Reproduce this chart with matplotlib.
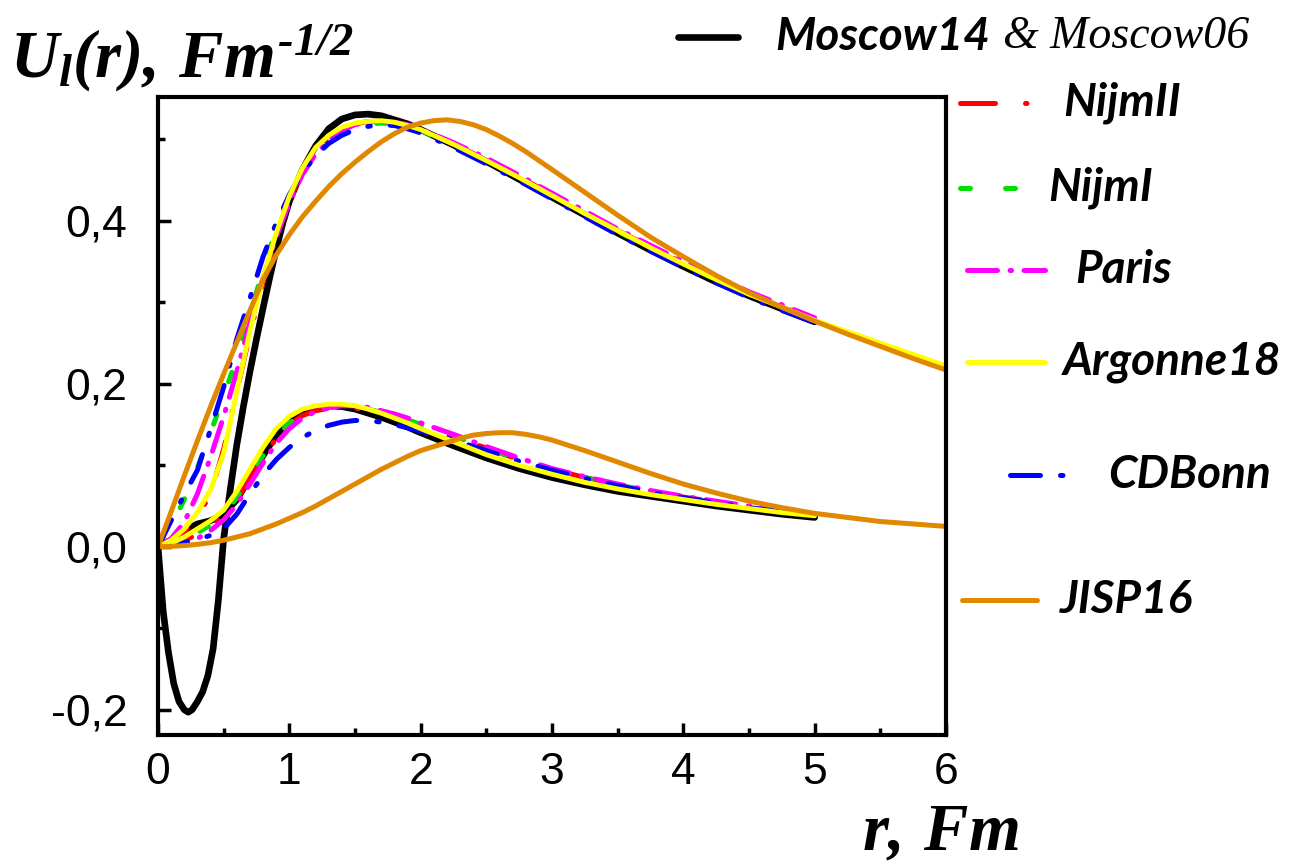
import matplotlib.pyplot as plt
from matplotlib.lines import Line2D
from matplotlib.ticker import FixedLocator, MultipleLocator

plt.rcParams['mathtext.fontset'] = 'custom'
plt.rcParams['mathtext.rm'] = 'Liberation Serif:bold:italic'
plt.rcParams['mathtext.it'] = 'Liberation Serif:bold:italic'
plt.rcParams['mathtext.bf'] = 'Liberation Serif:bold:italic'

# sampling grids, r in Fm
r_grid = [0, 0.1, 0.2, 0.3, 0.4, 0.5, 0.6, 0.7, 0.8, 0.9, 1.0, 1.1, 1.2, 1.3, 1.4, 1.5,
          1.6, 1.7, 1.8, 1.9, 2.0, 2.25, 2.5, 2.75, 3.0, 3.25, 3.5, 3.75, 4.0, 4.25,
          4.5, 4.75, 5.0]
r_grid6 = r_grid + [5.25, 5.5, 5.75, 6.0]
r_jisp = [0, 0.1, 0.2, 0.3, 0.4, 0.5, 0.6, 0.7, 0.8, 0.9, 1.0, 1.1, 1.2, 1.3, 1.4, 1.5,
          1.6, 1.7, 1.8, 1.9, 2.0, 2.1, 2.2, 2.3, 2.4, 2.5, 2.6, 2.7, 2.8, 2.9, 3.0,
          3.25, 3.5, 3.75, 4.0, 4.25, 4.5, 4.75, 5.0, 5.25, 5.5, 5.75, 6.0]
r_moscow = [0, 0.04, 0.08, 0.12, 0.16, 0.2, 0.23, 0.26, 0.3, 0.34, 0.38, 0.42, 0.46,
            0.5, 0.55, 0.6, 0.65, 0.7, 0.75, 0.8, 0.85, 0.9, 0.95, 1.0, 1.1, 1.2, 1.3,
            1.4, 1.5, 1.6, 1.7, 1.8, 1.9, 2.0, 2.25, 2.5, 2.75, 3.0, 3.25, 3.5, 3.75,
            4.0, 4.25, 4.5, 4.75, 5.0]

# S-wave (upper curves)
moscow14_s = [0, -0.08, -0.13, -0.168, -0.19, -0.2, -0.203, -0.2, -0.19, -0.178, -0.158,
              -0.125, -0.065, 0.01, 0.07, 0.125, 0.172, 0.215, 0.255, 0.293, 0.33, 0.365,
              0.397, 0.424, 0.463, 0.492, 0.513, 0.525, 0.53, 0.531, 0.529, 0.524, 0.519,
              0.512, 0.493, 0.473, 0.451, 0.429, 0.407, 0.385, 0.364, 0.344, 0.325,
              0.308, 0.292, 0.276]
nijm2_s = [0, 0.006, 0.018, 0.036, 0.065, 0.12, 0.19, 0.262, 0.325, 0.38, 0.425, 0.46,
           0.486, 0.503, 0.513, 0.519, 0.522, 0.522, 0.52, 0.516, 0.511, 0.494, 0.475,
           0.454, 0.432, 0.41, 0.388, 0.368, 0.348, 0.329, 0.311, 0.295, 0.279]
nijm1_s = [0, 0.025, 0.058, 0.097, 0.14, 0.185, 0.232, 0.285, 0.34, 0.39, 0.43, 0.458,
           0.48, 0.497, 0.508, 0.515, 0.519, 0.52, 0.519, 0.516, 0.511, 0.493, 0.474,
           0.453, 0.431, 0.409, 0.387, 0.367, 0.347, 0.328, 0.31, 0.294, 0.278]
paris_s = [0, 0.01, 0.03, 0.065, 0.11, 0.16, 0.215, 0.275, 0.33, 0.38, 0.422, 0.457,
           0.482, 0.5, 0.511, 0.518, 0.521, 0.522, 0.521, 0.518, 0.513, 0.496, 0.477,
           0.456, 0.434, 0.412, 0.39, 0.37, 0.35, 0.331, 0.313, 0.297, 0.281]
av18_s = [0, 0.008, 0.022, 0.042, 0.07, 0.115, 0.19, 0.265, 0.33, 0.385, 0.43, 0.465,
          0.49, 0.505, 0.515, 0.52, 0.522, 0.523, 0.521, 0.517, 0.512, 0.494, 0.474,
          0.453, 0.431, 0.409, 0.388, 0.367, 0.347, 0.328, 0.31, 0.294, 0.278, 0.264,
          0.25, 0.236, 0.222]
cdbonn_s = [0, 0.032, 0.064, 0.094, 0.144, 0.196, 0.255, 0.305, 0.356, 0.397, 0.432,
            0.46, 0.48, 0.495, 0.505, 0.512, 0.516, 0.518, 0.517, 0.513, 0.508, 0.49,
            0.47, 0.449, 0.427, 0.405, 0.383, 0.363, 0.343, 0.324, 0.306, 0.29, 0.275]
jisp16_s = [0, 0.043, 0.087, 0.13, 0.172, 0.212, 0.251, 0.29, 0.328, 0.358, 0.383, 0.405,
            0.424, 0.442, 0.458, 0.472, 0.485, 0.497, 0.507, 0.515, 0.52, 0.523, 0.524,
            0.522, 0.518, 0.512, 0.504, 0.495, 0.485, 0.474, 0.463, 0.435, 0.407, 0.38,
            0.356, 0.333, 0.312, 0.294, 0.277, 0.261, 0.246, 0.231, 0.217]

# D-wave (lower curves)
moscow14_d = [0, 0.008, 0.02, 0.028, 0.032, 0.04, 0.058, 0.085, 0.112, 0.137, 0.155,
              0.166, 0.171, 0.173, 0.172, 0.169, 0.164, 0.159, 0.153, 0.147, 0.14,
              0.124, 0.109, 0.096, 0.085, 0.076, 0.068, 0.062, 0.056, 0.05, 0.045,
              0.04, 0.036]
nijm2_d = [0, 0.003, 0.008, 0.015, 0.025, 0.038, 0.058, 0.084, 0.11, 0.133, 0.15, 0.161,
           0.167, 0.17, 0.171, 0.17, 0.168, 0.164, 0.16, 0.155, 0.149, 0.135, 0.121,
           0.107, 0.095, 0.085, 0.076, 0.068, 0.061, 0.055, 0.049, 0.044, 0.039]
nijm1_d = [0, 0.003, 0.009, 0.017, 0.027, 0.04, 0.06, 0.086, 0.112, 0.135, 0.152, 0.162,
           0.168, 0.171, 0.172, 0.171, 0.169, 0.165, 0.161, 0.156, 0.15, 0.136, 0.121,
           0.107, 0.095, 0.085, 0.076, 0.068, 0.061, 0.055, 0.049, 0.044, 0.039]
paris_d = [0, 0.002, 0.005, 0.01, 0.02, 0.033, 0.052, 0.077, 0.103, 0.127, 0.145, 0.158,
           0.166, 0.171, 0.173, 0.173, 0.171, 0.167, 0.163, 0.158, 0.152, 0.138, 0.123,
           0.109, 0.096, 0.086, 0.077, 0.069, 0.062, 0.056, 0.05, 0.045, 0.04]
av18_d = [0, 0.004, 0.012, 0.022, 0.032, 0.045, 0.068, 0.095, 0.122, 0.145, 0.16, 0.169,
          0.173, 0.175, 0.175, 0.173, 0.169, 0.164, 0.158, 0.152, 0.145, 0.129, 0.113,
          0.1, 0.089, 0.079, 0.071, 0.064, 0.058, 0.052, 0.047, 0.042, 0.038]
cdbonn_d = [0, 0.002, 0.005, 0.009, 0.014, 0.022, 0.04, 0.065, 0.088, 0.107, 0.122,
            0.134, 0.143, 0.149, 0.153, 0.155, 0.155, 0.153, 0.15, 0.146, 0.142, 0.131,
            0.118, 0.105, 0.094, 0.084, 0.075, 0.067, 0.06, 0.054, 0.048, 0.043, 0.039]
jisp16_d = [0, 0.0005, 0.0015, 0.003, 0.005, 0.008, 0.012, 0.016, 0.022, 0.028, 0.035,
            0.042, 0.05, 0.059, 0.068, 0.077, 0.086, 0.095, 0.103, 0.111, 0.118, 0.123,
            0.128, 0.133, 0.137, 0.139, 0.14, 0.14, 0.138, 0.135, 0.131, 0.118, 0.104,
            0.09, 0.077, 0.066, 0.056, 0.048, 0.041, 0.036, 0.031, 0.028, 0.025]

y_ticks = [-0.2, 0.0, 0.2, 0.4]
y_labels = ['-0,2', '0,0', '0,2', '0,4']
x_ticks = [0, 1, 2, 3, 4, 5, 6]
x_labels = ['0', '1', '2', '3', '4', '5', '6']

W, H = 1291, 866
fig = plt.figure(figsize=(W / 100, H / 100), dpi=100)
ax = fig.add_axes([158 / W, 1 - 735 / H, (946 - 158) / W, (735 - 97) / H])

black = dict(color='black', lw=4.8, solid_capstyle='round', solid_joinstyle='round')
red = dict(color='#ff0000', lw=3.6, ls=(0, (7, 6, 0.3, 6)), dash_capstyle='round')
green = dict(color='#00e000', lw=3.6, ls=(0, (2, 7)), dash_capstyle='round')
magenta = dict(color='#ff00ff', lw=3.6, ls=(0, (6, 2.5, 0.3, 2.5)), dash_capstyle='round')
blue = dict(color='#0000ff', lw=3.6, ls=(0, (6, 4, 0.5, 4)), dash_capstyle='round')
yellow = dict(color='#ffff00', lw=3.5, solid_capstyle='round', solid_joinstyle='round')
orange = dict(color='#e08800', lw=3.6, solid_capstyle='round', solid_joinstyle='round')

l_mos, = ax.plot(r_moscow, moscow14_s, **black)
ax.plot(r_grid, moscow14_d, **black)
l_n2, = ax.plot(r_grid, nijm2_s, **red)
ax.plot(r_grid, nijm2_d, **red)
l_n1, = ax.plot(r_grid, nijm1_s, **green)
ax.plot(r_grid, nijm1_d, **green)
l_par, = ax.plot(r_grid, paris_s, **magenta)
ax.plot(r_grid, paris_d, **magenta)
l_cdb, = ax.plot(r_grid, cdbonn_s, **blue)
ax.plot(r_grid, cdbonn_d, **blue)
l_av, = ax.plot(r_grid6, av18_s, **yellow)
ax.plot(r_grid, av18_d, **yellow)
l_j, = ax.plot(r_jisp, jisp16_s, **orange)
ax.plot(r_jisp, jisp16_d, **orange)

ax.set_xlim(0, 6)
ax.set_ylim(-0.231, 0.552)
ax.xaxis.set_major_locator(FixedLocator(x_ticks))
ax.set_xticklabels(x_labels)
ax.xaxis.set_minor_locator(MultipleLocator(0.5))
ax.yaxis.set_major_locator(FixedLocator(y_ticks))
ax.set_yticklabels(y_labels)
ax.yaxis.set_minor_locator(MultipleLocator(0.1))
ax.tick_params(which='both', direction='in', width=2.5, top=False, right=False,
               labelsize=32)
ax.tick_params(which='major', length=9)
ax.tick_params(which='minor', length=5)
ax.tick_params(axis='x', pad=12)
ax.tick_params(axis='y', pad=22)
for lab in ax.get_xticklabels() + ax.get_yticklabels():
    lab.set_family('Liberation Sans')
for s in ax.spines.values():
    s.set_linewidth(3)

fig.text(10 / W, 1 - 78 / H, r'$U_l(r),\,Fm^{\text{-}1/2}$', fontsize=48, ha='left',
         va='baseline')
fig.text(940 / W, 1 - 849 / H, r'$r,\,Fm$', fontsize=48, ha='center', va='baseline')


def legend_entry(line, x0, x1, y, tx, label):
    h = Line2D([x0 / W, x1 / W], [1 - y / H, 1 - y / H])
    h.update_from(line)
    h.set_transform(fig.transFigure)
    h.set_clip_on(False)
    h.set_clip_path(None)
    fig.add_artist(h)
    return fig.text(tx / W, 1 - y / H, label, fontsize=33, family='Lato',
                    weight='bold', style='italic', ha='left', va='center')


legend_entry(l_mos, 678, 738, 37, 775, 'Moscow14')
fig.text(1003 / W, 1 - 37 / H, '& Moscow06', fontsize=33, family='Liberation Serif',
         style='italic', ha='left', va='center')
legend_entry(l_n2, 960, 1040, 103, 1063, 'NijmII')
legend_entry(l_n1, 960, 1015, 188, 1048, 'NijmI')
legend_entry(l_par, 967, 1045, 270, 1075, 'Paris')
legend_entry(l_av, 967, 1045, 362, 1063, 'Argonne18')
legend_entry(l_cdb, 1010, 1070, 475, 1108, 'CDBonn')
legend_entry(l_j, 962, 1037, 600, 1060, 'JISP16')

fig.savefig('out.png', dpi=100)
